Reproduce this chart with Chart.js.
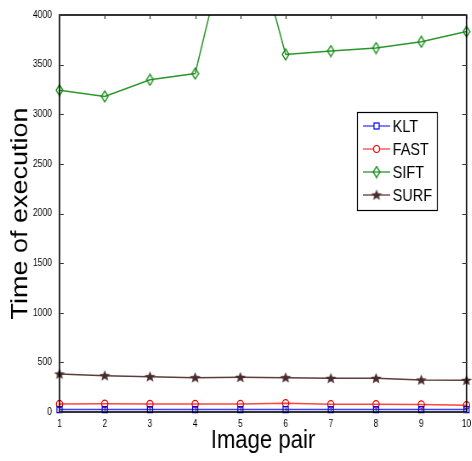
<!DOCTYPE html>
<html>
<head>
<meta charset="utf-8">
<script src="https://cdn.jsdelivr.net/npm/chart.js@4/dist/chart.umd.min.js"></script>
<style>
  html, body { margin: 0; padding: 0; background: #fff; overflow: hidden; }
  #wrap { position: relative; width: 472px; height: 461px; overflow: hidden; }
  /* the original figure is squeezed sideways, so draw wide and squeeze */
  #timing { transform: scaleX(0.85); transform-origin: 0 0; }
</style>
</head>
<body>
<div id="wrap"><canvas id="timing" width="555" height="461"></canvas></div>
<script>
var pairs = ['1', '2', '3', '4', '5', '6', '7', '8', '9', '10'];
var yTicks = [0, 500, 1000, 1500, 2000, 2500, 3000, 3500, 4000];
var seriesNames = ['KLT', 'FAST', 'SIFT', 'SURF'];

var klt = [24, 24, 24, 24, 24, 24, 24, 24, 24, 24];
var fast = [80, 82, 80, 80, 80, 88, 78, 78, 75, 68];
var sift = [3243, 3180, 3347, 3410, 5300, 3603, 3637, 3667, 3730, 3833];
var surf = [383, 366, 356, 346, 349, 346, 339, 339, 323, 319];

var fontFam = '"Liberation Sans", Arial, sans-serif';

// hollow diamond like matlab's 'd' marker
function makeDiamond(color) {
  var c = document.createElement('canvas');
  c.width = 10; c.height = 13;
  var g = c.getContext('2d');
  g.strokeStyle = color;
  g.lineWidth = 1.3;
  g.beginPath();
  g.moveTo(5, 1); g.lineTo(9, 6.5); g.lineTo(5, 12); g.lineTo(1, 6.5);
  g.closePath();
  g.stroke();
  return c;
}

function makeStar(color) {
  var c = document.createElement('canvas');
  c.width = 15; c.height = 13;
  var g = c.getContext('2d');
  g.fillStyle = color;
  g.beginPath();
  for (var i = 0; i < 10; i++) {
    var r = (i % 2 == 0) ? 5.8 : 2.5;
    var a = -Math.PI / 2 + i * Math.PI / 5;
    var px = 7.5 + r * Math.cos(a) / 0.85, py = 6.8 + r * Math.sin(a);
    if (i == 0) g.moveTo(px, py); else g.lineTo(px, py);
  }
  g.closePath();
  g.fill();
  return c;
}

var diamond = makeDiamond('#178a17');
var star = makeStar('#4a2c2c');

// matlab style box with inward tick marks
var boxPlugin = {
  id: 'box',
  afterDraw: function(chart) {
    var ctx = chart.ctx;
    var a = chart.chartArea;
    var xs = chart.scales.x, ys = chart.scales.y;
    ctx.save();
    ctx.strokeStyle = '#000';
    ctx.lineWidth = 1.6;
    ctx.strokeRect(a.left, a.top, a.right - a.left, a.bottom - a.top);
    ctx.lineWidth = 1.1;
    ctx.strokeStyle = '#333';
    ctx.beginPath();
    for (var i = 0; i < pairs.length; i++) {
      var px = Math.round(xs.getPixelForValue(i)) + 0.5;
      ctx.moveTo(px, a.bottom); ctx.lineTo(px, a.bottom - 4);
      ctx.moveTo(px, a.top); ctx.lineTo(px, a.top + 4);
    }
    for (var j = 0; j < yTicks.length; j++) {
      var py = Math.round(ys.getPixelForValue(yTicks[j])) + 0.5;
      ctx.moveTo(a.left, py); ctx.lineTo(a.left + 5, py);
      ctx.moveTo(a.right, py); ctx.lineTo(a.right - 5, py);
    }
    ctx.stroke();
    ctx.restore();
  }
};

// legend box inside the plot, upper right
var insideLegend = {
  id: 'insideLegend',
  afterDraw: function(chart) {
    var ctx = chart.ctx;
    var bx = 420, by = 112, bw = 94, bh = 98;
    ctx.save();
    ctx.fillStyle = '#fff';
    ctx.fillRect(bx, by, bw, bh);
    ctx.strokeStyle = '#000';
    ctx.lineWidth = 1.2;
    ctx.strokeRect(bx + 0.5, by + 0.5, bw, bh);
    chart.data.datasets.forEach(function(ds, i) {
      var cy = by + 14 + i * 23;
      ctx.strokeStyle = ds.borderColor;
      ctx.lineWidth = 1.3;
      ctx.beginPath();
      ctx.moveTo(bx + 7, cy); ctx.lineTo(bx + 39, cy);
      ctx.stroke();
      var mx = bx + 23;
      ctx.strokeStyle = ds.pointBorderColor;
      ctx.lineWidth = 1.2;
      if (ds.pointStyle == 'rect') {
        ctx.fillStyle = '#fff';
        ctx.fillRect(mx - 3, cy - 3, 6, 6);
        ctx.strokeRect(mx - 3, cy - 3, 6, 6);
      } else if (ds.pointStyle == 'circle') {
        ctx.beginPath();
        ctx.arc(mx, cy, 3.5, 0, Math.PI * 2);
        ctx.fillStyle = '#fff';
        ctx.fill();
        ctx.stroke();
      } else {
        var img = ds.pointStyle;
        ctx.drawImage(img, mx - img.width / 2, cy - img.height / 2);
      }
      ctx.fillStyle = '#000';
      ctx.font = '17px ' + fontFam;
      ctx.textBaseline = 'middle';
      ctx.fillText(ds.label, bx + 42, cy + 1);
    });
    ctx.restore();
  }
};

function makeSet(name, data, line, marker, style, radius) {
  return {
    label: name,
    data: data,
    borderColor: line,
    borderWidth: 1.5,
    pointStyle: style,
    pointRadius: radius,
    pointBorderColor: marker,
    pointBackgroundColor: 'rgba(0,0,0,0)',
    pointBorderWidth: 1.2,
    tension: 0,
    clip: {left: 10, right: 10, top: 0, bottom: 10}
  };
}

var ctx = document.getElementById('timing');
new Chart(ctx, {
  type: 'line',
  data: {
    labels: pairs,
    datasets: [
      makeSet(seriesNames[0], klt, '#3b3bff', '#0000ee', 'rect', 4.3),
      makeSet(seriesNames[1], fast, '#ff4444', '#ee0000', 'circle', 3.7),
      makeSet(seriesNames[2], sift, '#2a962a', '#178a17', diamond, 5),
      makeSet(seriesNames[3], surf, '#5e3c3c', '#4a2c2c', star, 5)
    ]
  },
  options: {
    responsive: false,
    animation: false,
    devicePixelRatio: 1,
    layout: { padding: { top: 13, right: 6, left: 0, bottom: 0 } },
    plugins: {
      legend: { display: false },
      tooltip: { enabled: false }
    },
    scales: {
      x: {
        offset: false,
        grid: { display: false, tickLength: 0 },
        border: { display: false },
        ticks: { color: '#000', padding: 6, maxRotation: 0, autoSkip: false, font: { family: fontFam, size: 10 } },
        title: { display: true, text: 'Image pair', color: '#000', padding: { top: 0, bottom: 5 }, font: { family: fontFam, size: 26 } },
        afterFit: function(scale) {
          scale.height = 49;
          // let the "10" label hang over the edge like in the original
          scale.paddingLeft = 0;
          scale.paddingRight = 0;
        }
      },
      y: {
        min: 0,
        max: 4000,
        grid: { display: false, tickLength: 0 },
        border: { display: false },
        ticks: {
          stepSize: 500, color: '#000', padding: 9, font: { family: fontFam, size: 10 },
          callback: function(v) { return String(v); }
        },
        title: { display: true, text: 'Time of execution', color: '#000', padding: { top: 8, bottom: 0 }, font: { family: fontFam, size: 27 } },
        afterFit: function(scale) { scale.width = 70; }
      }
    }
  },
  plugins: [boxPlugin, insideLegend]
});
</script>
</body>
</html>
